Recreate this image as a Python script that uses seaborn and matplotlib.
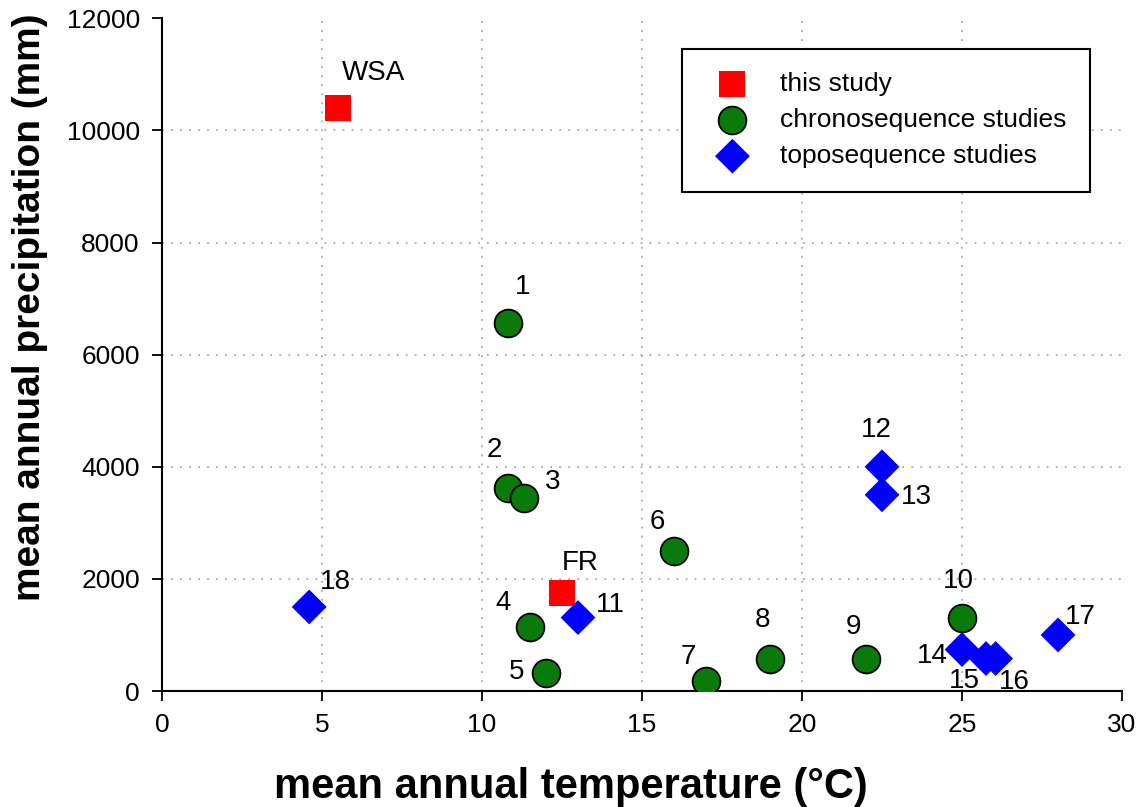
import numpy as np
import pandas as pd
import matplotlib
matplotlib.use('Agg')
import matplotlib.pyplot as plt
import seaborn as sns

# this study
this_labels = ['WSA', 'FR']
this_temp = [5.5, 12.5]
this_prec = [10400, 1750]

# chronosequence studies
chrono_labels = ['1', '2', '3', '4', '5', '6', '7', '8', '9', '10']
chrono_temp = [10.8, 10.8, 11.3, 11.5, 12.0, 16.0, 17.0, 19.0, 22.0, 25.0]
chrono_prec = [6570, 3620, 3450, 1140, 330, 2500, 180, 570, 570, 1310]

# toposequence studies
topo_labels = ['11', '12', '13', '14', '15', '16', '17', '18']
topo_temp = [13.0, 22.5, 22.5, 25.0, 25.75, 26.05, 28.0, 4.6]
topo_prec = [1310, 4000, 3500, 740, 580, 580, 1000, 1500]

x_ticks = [0, 5, 10, 15, 20, 25, 30]
y_ticks = [0, 2000, 4000, 6000, 8000, 10000, 12000]

df = pd.concat([
    pd.DataFrame({'label': this_labels, 'temp': this_temp, 'prec': this_prec, 'group': 'this study'}),
    pd.DataFrame({'label': chrono_labels, 'temp': chrono_temp, 'prec': chrono_prec, 'group': 'chronosequence studies'}),
    pd.DataFrame({'label': topo_labels, 'temp': topo_temp, 'prec': topo_prec, 'group': 'toposequence studies'}),
], ignore_index=True)

# label offsets from marker centre, in pixels (right, up)
label_offsets = {
    'WSA': (36, 35), 'FR': (18, 30),
    '1': (15, 36), '2': (-13, 38), '3': (29, 16), '4': (-27, 24), '5': (-29, 1),
    '6': (-17, 29), '7': (-18, 24), '8': (-8, 39), '9': (-13, 32), '10': (-4, 37),
    '11': (32, 13), '12': (-6, 37), '13': (34, -2), '14': (-30, -6),
    '15': (-22, -22), '16': (19, -23), '17': (22, 18), '18': (26, 25),
}

styles = {
    'this study': dict(marker='s', color='#ff0000', s=350, edgecolor='none', linewidth=0),
    'chronosequence studies': dict(marker='o', color='#0a7a0a', s=400, edgecolor='black', linewidth=1.3),
    'toposequence studies': dict(marker='D', color='#0000ff', s=315, edgecolor='none', linewidth=0),
}

sns.set_style('white')
plt.rcParams['font.family'] = ['Liberation Sans', 'DejaVu Sans']
plt.rcParams['text.color'] = 'black'
plt.rcParams['axes.labelcolor'] = 'black'
plt.rcParams['xtick.color'] = 'black'
plt.rcParams['ytick.color'] = 'black'

fig = plt.figure(figsize=(11.44, 8.07), dpi=100)
ax = fig.add_axes([0.1416, 0.1437, 0.8392, 0.8336])

for name, st in styles.items():
    sub = df[df['group'] == name]
    sns.scatterplot(data=sub, x='temp', y='prec', ax=ax, label=name, zorder=3, legend=False, **st)

for _, row in df.iterrows():
    dx, dy = label_offsets[row['label']]
    ax.annotate(row['label'], (row['temp'], row['prec']), xytext=(dx * 0.72, dy * 0.72),
                textcoords='offset points', ha='center', va='center', fontsize=20, zorder=4)

ax.set_xlim(0, 30)
ax.set_ylim(0, 12000)
ax.set_xticks(x_ticks)
ax.set_yticks(y_ticks)
ax.tick_params(axis='both', direction='out', length=7, width=1.3, pad=9, labelsize=19,
               bottom=True, left=True)
ax.grid(True, color='#aaaaaa', linestyle=(0, (1, 4)), linewidth=1.3)
ax.get_xgridlines()[-1].set_visible(False)
ax.get_ygridlines()[-1].set_visible(False)
ax.set_axisbelow(True)
for side in ['top', 'right']:
    ax.spines[side].set_visible(False)
for side in ['left', 'bottom']:
    ax.spines[side].set_color('black')
    ax.spines[side].set_linewidth(1.5)

ax.set_xlabel('mean annual temperature (°C)', fontsize=30, fontweight='bold')
ax.set_ylabel('mean annual precipitation (mm)', fontsize=28, fontweight='bold')
ax.xaxis.set_label_coords(0.426, -0.143)
ax.xaxis.label.set_va('center')
ax.yaxis.set_label_coords(-0.1375, 0.571)
ax.yaxis.label.set_va('center')

leg = ax.legend(loc='upper right', bbox_to_anchor=(0.9667, 0.955), borderaxespad=0,
                frameon=True, fancybox=False, edgecolor='black', framealpha=1,
                fontsize=19, borderpad=0.9, labelspacing=0.45, handletextpad=0.8)
leg.get_frame().set_linewidth(1.5)

plt.savefig('out.png', dpi=100)
plt.close()
